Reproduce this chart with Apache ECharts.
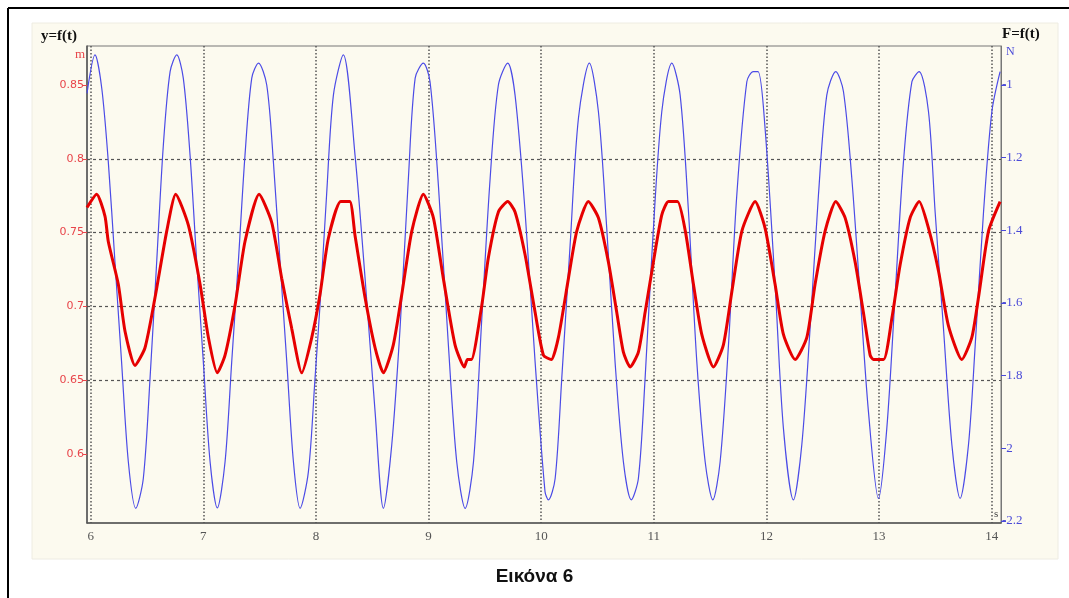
<!DOCTYPE html>
<html>
<head>
<meta charset="utf-8">
<script src="https://cdn.jsdelivr.net/npm/echarts@6/dist/echarts.min.js"></script>
<style>
  html, body { margin: 0; padding: 0; background: #fff; }
  #main { width: 1069px; height: 598px; }
</style>
</head>
<body>
<div id="main"></div>
<script>
// displacement y (m), red curve, left axis
var redT = [5.967, 6.053, 6.127, 6.156, 6.245, 6.305, 6.393, 6.482, 6.571, 6.675,
  6.755, 6.867, 6.971, 7.045, 7.124, 7.193, 7.282, 7.370, 7.495, 7.607,
  7.696, 7.785, 7.874, 7.963, 8.036, 8.110, 8.220, 8.300, 8.347, 8.436,
  8.525, 8.599, 8.687, 8.762, 8.851, 8.954, 9.043, 9.131, 9.235, 9.318,
  9.345, 9.380, 9.473, 9.531, 9.620, 9.703, 9.768, 9.857, 9.946, 10.020,
  10.090, 10.153, 10.242, 10.316, 10.419, 10.508, 10.597, 10.671, 10.730, 10.790,
  10.863, 10.923, 10.996, 11.071, 11.130, 11.210, 11.280, 11.352, 11.426, 11.530,
  11.618, 11.693, 11.782, 11.900, 11.988, 12.077, 12.151, 12.255, 12.359, 12.432,
  12.521, 12.616, 12.699, 12.788, 12.861, 12.921, 12.950, 13.040, 13.114, 13.187,
  13.276, 13.356, 13.439, 13.528, 13.616, 13.735, 13.824, 13.883, 13.972, 14.075];
var redY = [0.767, 0.776, 0.761, 0.744, 0.715, 0.683, 0.660, 0.672, 0.706, 0.751,
  0.776, 0.755, 0.715, 0.679, 0.655, 0.667, 0.701, 0.744, 0.776, 0.757,
  0.719, 0.685, 0.655, 0.679, 0.708, 0.746, 0.771, 0.771, 0.748, 0.706,
  0.672, 0.655, 0.674, 0.708, 0.751, 0.776, 0.760, 0.719, 0.674, 0.659,
  0.664, 0.664, 0.701, 0.733, 0.764, 0.771, 0.764, 0.735, 0.696, 0.667,
  0.664, 0.679, 0.719, 0.751, 0.771, 0.760, 0.730, 0.696, 0.669, 0.659,
  0.669, 0.696, 0.730, 0.762, 0.771, 0.771, 0.751, 0.715, 0.681, 0.659,
  0.674, 0.710, 0.751, 0.771, 0.753, 0.715, 0.681, 0.664, 0.679, 0.715,
  0.751, 0.771, 0.760, 0.730, 0.696, 0.667, 0.664, 0.664, 0.692, 0.728,
  0.760, 0.771, 0.753, 0.724, 0.687, 0.664, 0.679, 0.706, 0.751, 0.771];

// force F (N), blue curve, right axis
var blueT = [5.967, 6.038, 6.098, 6.156, 6.215, 6.274, 6.334, 6.400, 6.467, 6.527,
  6.586, 6.645, 6.705, 6.764, 6.822, 6.882, 6.941, 7.000, 7.060, 7.124,
  7.193, 7.252, 7.311, 7.370, 7.430, 7.490, 7.563, 7.622, 7.681, 7.741,
  7.800, 7.859, 7.933, 7.992, 8.036, 8.095, 8.155, 8.243, 8.347, 8.436,
  8.525, 8.599, 8.673, 8.747, 8.821, 8.881, 8.954, 9.013, 9.087, 9.176,
  9.250, 9.325, 9.399, 9.473, 9.547, 9.620, 9.703, 9.768, 9.857, 9.946,
  10.034, 10.064, 10.124, 10.183, 10.257, 10.331, 10.428, 10.508, 10.582, 10.656,
  10.730, 10.800, 10.863, 10.923, 10.988, 11.071, 11.160, 11.234, 11.308, 11.382,
  11.456, 11.524, 11.589, 11.663, 11.737, 11.826, 11.884, 11.926, 11.988, 12.077,
  12.151, 12.240, 12.314, 12.388, 12.462, 12.536, 12.616, 12.684, 12.758, 12.832,
  12.906, 12.995, 13.069, 13.143, 13.217, 13.292, 13.356, 13.439, 13.498, 13.572,
  13.647, 13.720, 13.794, 13.854, 13.928, 14.002, 14.075];
var blueF = [-1.023, -0.917, -1.009, -1.211, -1.486, -1.762, -2.037, -2.165, -2.083, -1.806,
  -1.486, -1.165, -0.963, -0.917, -0.981, -1.193, -1.486, -1.762, -2.037, -2.164,
  -2.037, -1.762, -1.486, -1.193, -0.981, -0.940, -1.000, -1.211, -1.486, -1.762,
  -2.037, -2.165, -2.064, -1.806, -1.606, -1.300, -1.028, -0.917, -1.193, -1.531,
  -1.899, -2.165, -1.991, -1.669, -1.256, -0.981, -0.940, -0.991, -1.275, -1.716,
  -2.037, -2.165, -2.037, -1.641, -1.256, -1.000, -0.940, -1.028, -1.349, -1.762,
  -2.119, -2.142, -2.083, -1.806, -1.440, -1.091, -0.940, -1.073, -1.394, -1.762,
  -2.037, -2.142, -2.083, -1.806, -1.440, -1.073, -0.940, -1.028, -1.349, -1.762,
  -2.037, -2.142, -2.037, -1.716, -1.303, -0.991, -0.963, -0.963, -1.119, -1.550,
  -1.945, -2.142, -1.991, -1.669, -1.303, -1.028, -0.963, -1.018, -1.256, -1.578,
  -1.899, -2.138, -1.945, -1.578, -1.211, -0.991, -0.963, -1.073, -1.349, -1.669,
  -1.991, -2.138, -1.991, -1.716, -1.349, -1.073, -0.963];

var xTicks = [6, 7, 8, 9, 10, 11, 12, 13, 14];
var yTicks = [0.6, 0.65, 0.7, 0.75, 0.8, 0.85];
var fTicks = [-2.2, -2, -1.8, -1.6, -1.4, -1.2, -1];

var redData = redT.map(function (t, i) { return [t, redY[i]]; });
var blueData = blueT.map(function (t, i) { return [t, blueF[i]]; });

var myChart = echarts.init(document.getElementById('main'));
var option = {
    animation: false,
    backgroundColor: '#ffffff',
    graphic: [
        { type: 'line', shape: { x1: 8, y1: 8, x2: 1069, y2: 8 }, style: { stroke: '#000', lineWidth: 2 } },
        { type: 'line', shape: { x1: 8, y1: 8, x2: 8, y2: 598 }, style: { stroke: '#000', lineWidth: 2 } },
        { type: 'rect', z: -10, shape: { x: 32, y: 23, width: 1026, height: 536 },
          style: { fill: '#fcfaef', stroke: '#eeece2', lineWidth: 1 } },
        { type: 'text', left: 41, top: 29, style: { text: 'y=f(t)', font: 'bold 15px "Liberation Serif", serif', fill: '#111' } },
        { type: 'text', left: 75, top: 48, style: { text: 'm', font: '13px "Liberation Serif", serif', fill: '#e8454a' } },
        { type: 'text', left: 1002, top: 27, style: { text: 'F=f(t)', font: 'bold 15px "Liberation Serif", serif', fill: '#111' } },
        { type: 'text', left: 1006, top: 46, style: { text: 'N', font: '12px "Liberation Serif", serif', fill: '#4a4ad8' } },
        { type: 'text', left: 994, top: 509, style: { text: 's', font: '11px "Liberation Serif", serif', fill: '#444' } },
        { type: 'text', left: 'center', top: 567, style: { text: 'Εικόνα 6', font: 'bold 19px "Liberation Sans", Arial, sans-serif', fill: '#111', x: 535, align: 'center' } }
    ],
    grid: {
        left: 87, right: 68, top: 46, bottom: 75,
        show: true, borderColor: '#777', borderWidth: 1, backgroundColor: 'transparent'
    },
    xAxis: {
        type: 'value', min: 5.967, max: 14.083, minInterval: 1, maxInterval: 1,
        axisLine: { show: true, onZero: false, lineStyle: { color: '#555', width: 1.5 } },
        axisTick: { show: false },
        axisLabel: {
            color: '#555', fontFamily: '"Liberation Serif", serif', fontSize: 13, margin: 7,
            customValues: xTicks,
            formatter: function (v) { return Math.abs(v - Math.round(v)) < 1e-6 ? String(Math.round(v)) : ''; }
        },
        splitLine: { show: true, showMinLine: false, showMaxLine: false, lineStyle: { color: '#555', type: [1.5, 2], width: 1.5 } }
    },
    yAxis: [
        {
            type: 'value', min: 0.5533, max: 0.8764, minInterval: 0.05, maxInterval: 0.05, position: 'left',
            axisLine: { show: true, lineStyle: { color: '#555', width: 1.5 } },
            axisTick: { show: true, length: 4, customValues: yTicks, lineStyle: { color: '#e8454a' } },
            axisLabel: {
                color: '#e8454a', fontFamily: '"DejaVu Sans", Verdana, sans-serif', fontSize: 11, margin: 3,
                customValues: yTicks,
                formatter: function (v) { return String(+v.toFixed(2)); }
            },
            splitLine: { show: true, showMinLine: false, showMaxLine: false, lineStyle: { color: '#555', type: [3, 3], width: 1.2 } }
        },
        {
            type: 'value', min: -2.2055, max: -0.8927, minInterval: 0.2, maxInterval: 0.2, position: 'right',
            axisLine: { show: true, lineStyle: { color: '#777', width: 1 } },
            axisTick: { show: true, length: 5, customValues: fTicks, lineStyle: { color: '#4a4ad8' } },
            axisLabel: {
                color: '#4a4ad8', fontFamily: '"Liberation Serif", serif', fontSize: 13, margin: 1,
                customValues: fTicks,
                formatter: function (v) { return String(+v.toFixed(1)); }
            },
            splitLine: { show: false }
        }
    ],
    series: [
        {
            name: 'F', type: 'line', yAxisIndex: 1, data: blueData,
            showSymbol: false, smooth: 0.3, clip: true,
            lineStyle: { color: '#4b4be6', width: 1.2 }, z: 2
        },
        {
            name: 'y', type: 'line', yAxisIndex: 0, data: redData,
            showSymbol: false, smooth: 0.2, clip: true,
            lineStyle: { color: '#e60000', width: 3 }, z: 3
        }
    ]
};
myChart.setOption(option);
</script>
</body>
</html>
